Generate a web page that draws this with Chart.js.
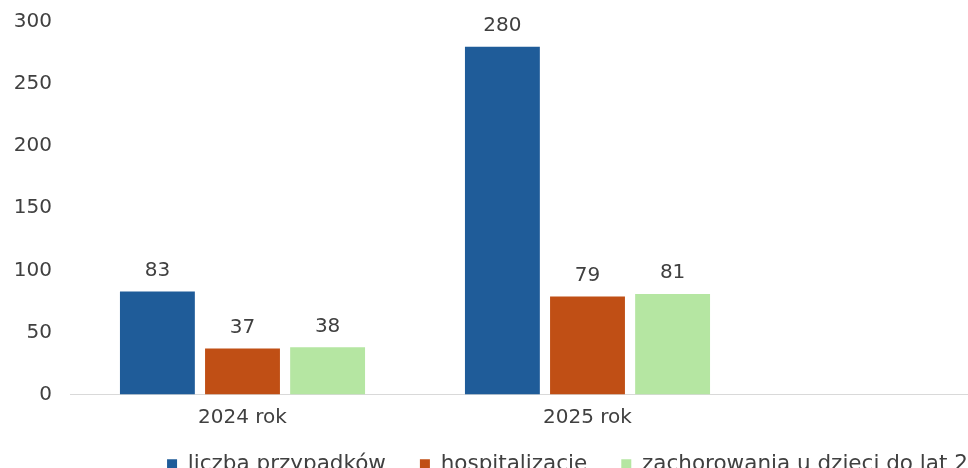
<!DOCTYPE html>
<html>
<head>
<meta charset="utf-8">
<script src="https://cdn.jsdelivr.net/npm/chart.js@4"></script>
<style>
  html, body { margin: 0; padding: 0; background: #ffffff; overflow: hidden; }
  #wrap { width: 1176px; height: 506px; }
</style>
</head>
<body>
<div id="wrap"><canvas id="barChart" width="1176" height="506"></canvas></div>
<script>
// dane
var categories = ['2024 rok', '2025 rok', ''];
var seriesNames = ['liczba przypadków', 'hospitalizacje', 'zachorowania u dzieci do lat 2'];
var casesValues = [83, 280, null];
var hospitalValues = [37, 79, null];
var childValues = [38, 81, null];
var yTicks = [0, 50, 100, 150, 200, 250, 300];

var seriesColors = ['#1f5c99', '#c04f15', '#b5e6a2'];
var textColor = '#404040';
var fontFamily = '"DejaVu Sans", sans-serif';

// etykiety wartości nad słupkami
var valueLabels = {
    id: 'valueLabels',
    afterDatasetsDraw: function (chart) {
        var ctx = chart.ctx;
        ctx.save();
        ctx.font = '20px ' + fontFamily;
        ctx.fillStyle = textColor;
        ctx.textAlign = 'center';
        ctx.textBaseline = 'bottom';
        chart.data.datasets.forEach(function (ds, i) {
            chart.getDatasetMeta(i).data.forEach(function (bar, j) {
                if (ds.data[j] == null) return;
                ctx.fillText(ds.data[j], bar.x, bar.y - 11);
            });
        });
        ctx.restore();
    }
};

// legenda przesunięta (mniejszy odstęp pionowy niż poziomy)
var legendShift = {
    id: 'legendShift',
    afterInit: function (chart) {
        var lg = chart.legend;
        if (!lg) return;
        var draw0 = lg.draw;
        lg.draw = function () {
            var c = this.ctx;
            c.save();
            c.translate(10, -21);
            draw0.apply(this, arguments);
            c.restore();
        };
    }
};

var barCanvas = document.getElementById('barChart');
var barData = {
    labels: categories,
    datasets: [casesValues, hospitalValues, childValues].map(function (vals, i) {
        return {
            label: seriesNames[i],
            data: vals,
            backgroundColor: seriesColors[i],
            borderWidth: 0,
            categoryPercentage: 0.74,
            barPercentage: 0.88
        };
    })
};

var barChart = new Chart(barCanvas.getContext('2d'), {
    type: 'bar',
    data: barData,
    plugins: [valueLabels, legendShift],
    options: {
        responsive: false,
        animation: false,
        layout: { padding: { left: 10, right: 71, top: 22, bottom: 0 } },
        plugins: {
            legend: {
                position: 'bottom',
                labels: {
                    boxWidth: 10,
                    boxHeight: 10,
                    padding: 34,
                    color: textColor,
                    font: { family: fontFamily, size: 21.5 }
                }
            },
            tooltip: { enabled: false }
        },
        scales: {
            x: {
                grid: { display: false, drawTicks: false },
                border: { color: '#d9d9d9', width: 1 },
                ticks: { color: textColor, font: { family: fontFamily, size: 20 }, padding: 11 }
            },
            y: {
                min: 0,
                max: 300,
                afterBuildTicks: function (axis) {
                    axis.ticks = yTicks.map(function (v) { return { value: v }; });
                },
                afterFit: function (axis) {
                    axis.width = 60;
                    axis.paddingTop = 0;
                },
                grid: { display: false, drawTicks: false },
                border: { display: false },
                ticks: { color: textColor, font: { family: fontFamily, size: 20 }, padding: 18 }
            }
        }
    }
});
</script>
</body>
</html>
